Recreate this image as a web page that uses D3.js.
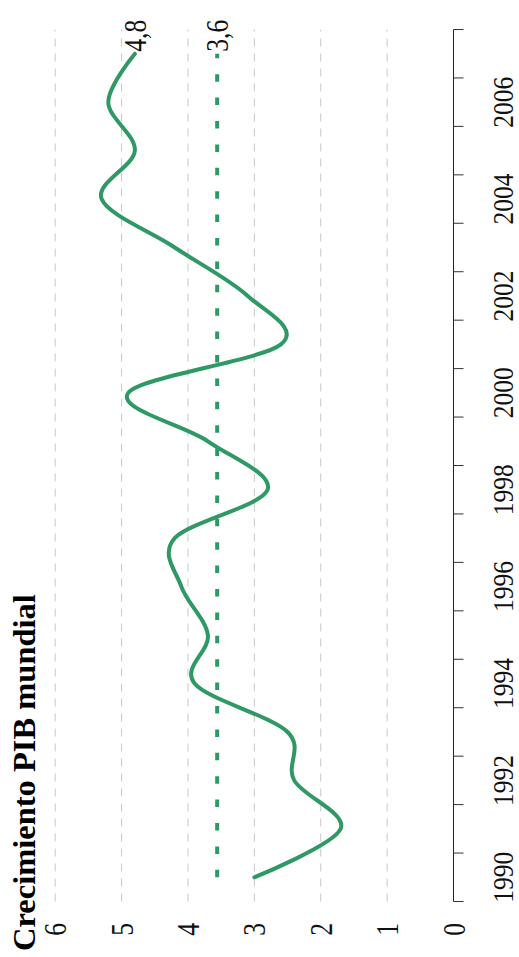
<!DOCTYPE html>
<html>
<head>
<meta charset="utf-8">
<script src="https://cdn.jsdelivr.net/npm/d3@7"></script>
<style>
  html, body { margin: 0; padding: 0; background: #fff; }
  svg { display: block; }
</style>
</head>
<body>
<script>
// ---- data ----
const years = [1990, 1991, 1992, 1993, 1994, 1995, 1996, 1997, 1998, 1999,
               2000, 2001, 2002, 2003, 2004, 2005, 2006, 2007];
const growth = [3.0, 1.7, 2.4, 2.5, 3.9, 3.7, 4.1, 4.2, 2.8, 3.7,
                4.9, 2.6, 3.1, 4.2, 5.3, 4.8, 5.2, 4.8];
const average = 3.56;
const valueTicks = [0, 1, 2, 3, 4, 5, 6];
const yearLabels = [1990, 1992, 1994, 1996, 1998, 2000, 2002, 2004, 2006];
const title = "Crecimiento PIB mundial";

// ---- layout (chart drawn in landscape frame, then rotated -90°) ----
const W = 957, H = 519;
const green = "#2f9966";
const serif = "'Liberation Serif', 'Times New Roman', serif";
const squeeze = 0.8;

const es = d3.formatLocale({decimal: ",", thousands: ".", grouping: [3], currency: ["", " €"]});
const fmt = es.format(".1f");

const svg = d3.select("body").append("svg")
  .attr("width", H).attr("height", W)
  .style("background", "#fff");

const g = svg.append("g").attr("transform", `translate(0,${W}) rotate(-90)`);

const x = d3.scaleBand().domain(years).range([55.5, 927.5]).paddingInner(0).paddingOuter(0);
const y = d3.scaleLinear().domain([0, 6]).range([453.5, 55.2]);
const cx = d => x(d) + x.bandwidth() / 2;
const [x0, x1] = x.range();

// grid
g.append("g").selectAll("line")
  .data(valueTicks.filter(v => v > 0))
  .join("line")
  .attr("x1", x0).attr("x2", x1)
  .attr("y1", d => y(d)).attr("y2", d => y(d))
  .attr("stroke", "#c8c8c8")
  .attr("stroke-width", 1)
  .attr("stroke-dasharray", "8,7");

// average dotted line
g.append("line")
  .attr("x1", cx(years[0])).attr("x2", cx(years[years.length - 1]))
  .attr("y1", y(average)).attr("y2", y(average))
  .attr("stroke", green)
  .attr("stroke-width", 4)
  .attr("stroke-dasharray", "7.5,15.9");

// data line
const line = d3.line()
  .x((d, i) => cx(years[i]))
  .y(d => y(d))
  .curve(d3.curveCardinal.tension(0));

g.append("path")
  .datum(growth)
  .attr("d", line)
  .attr("fill", "none")
  .attr("stroke", green)
  .attr("stroke-width", 4)
  .attr("stroke-linejoin", "round")
  .attr("stroke-linecap", "round");

// x axis (years)
const axisY = y(0);
const boundaries = years.map(d => x(d)).concat([x1]);
const ax = g.append("g");
ax.append("line")
  .attr("x1", x0).attr("x2", x1)
  .attr("y1", axisY).attr("y2", axisY)
  .attr("stroke", "#222").attr("stroke-width", 1);
ax.selectAll("line.tick")
  .data(boundaries)
  .join("line")
  .attr("class", "tick")
  .attr("x1", d => d).attr("x2", d => d)
  .attr("y1", axisY).attr("y2", axisY + 10)
  .attr("stroke", "#333").attr("stroke-width", 1);

ax.selectAll("text")
  .data(yearLabels)
  .join("text")
  .attr("transform", d => `translate(${cx(d)},513) scale(0.85,1)`)
  .attr("text-anchor", "middle")
  .attr("font-family", serif)
  .attr("font-size", 30)
  .attr("fill", "#111")
  .text(d => d);

// value labels
g.append("g").selectAll("text")
  .data(valueTicks)
  .join("text")
  .attr("transform", d => `translate(34,${y(d) + 11}) scale(${squeeze},1)`)
  .attr("text-anchor", "end")
  .attr("font-family", serif)
  .attr("font-size", 32)
  .attr("fill", "#111")
  .text(d => d);

// end labels
const lastYear = years[years.length - 1];
const lastVal = growth[growth.length - 1];
[[lastVal], [average]].forEach(([v]) => {
  g.append("text")
    .attr("transform", `translate(${cx(lastYear) + 2},${y(v) + 11}) scale(${squeeze},1)`)
    .attr("text-anchor", "start")
    .attr("font-family", serif)
    .attr("font-size", 32)
    .attr("fill", "#111")
    .text(fmt(v));
});

// title
g.append("text")
  .attr("x", 6).attr("y", 35)
  .attr("font-family", serif)
  .attr("font-weight", "bold")
  .attr("font-size", 32.5)
  .attr("fill", "#000")
  .text(title);
</script>
</body>
</html>
